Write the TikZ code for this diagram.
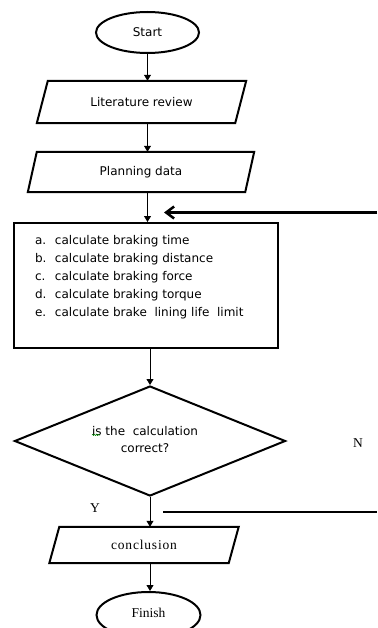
\documentclass[tikz,border=0pt]{standalone}
\usepackage{fontspec}
\setmainfont{Liberation Serif}
\newfontfamily\boxfont{DejaVu Sans}
\newfontfamily\spacedserif[LetterSpace=6]{Liberation Serif}
\usetikzlibrary{shapes.geometric,arrows.meta,decorations.pathmorphing}

% outline of a parallelogram drawn round a (hidden) rectangular node
\newcommand\slantframe[2]{%
  \draw[outline] ([xshift=#2]#1.north west) -- ([xshift=#2]#1.north east)
    -- ([xshift=-#2]#1.south east) -- ([xshift=-#2]#1.south west) -- cycle;}

\begin{document}
\begin{tikzpicture}[x=1pt,y=-1pt,
  outline/.style={draw=black,line width=2pt},
  sanstext/.style={font=\boxfont\fontsize{12}{14}\selectfont},
  seriftext/.style={font=\fontsize{13.5}{16}\selectfont},
  terminal/.style={ellipse,outline,inner sep=0pt},
  slantbody/.style={rectangle,inner sep=0pt},
  flow/.style={line width=0.8pt,-{Triangle[length=6pt,width=7pt]}},
  loopline/.style={line width=2.5pt},
]
\useasboundingbox (0,0) rectangle (377,628);
\fill[white] (0,0) rectangle (377,628);

% boxes
\node[terminal,sanstext,minimum width=103pt,minimum height=41pt] (start) at (147.5,32.5) {Start};
\node[slantbody,sanstext,minimum width=198pt,minimum height=42pt] (lit) at (141.5,102) {Literature review};
\slantframe{lit}{5.5pt}
\node[slantbody,sanstext,minimum width=217pt,minimum height=40pt] (plan) at (141,172) {Planning data};
\slantframe{plan}{4.5pt}
\node[outline,rectangle,inner sep=0pt,font=\boxfont\fontsize{12}{18}\selectfont] (calc) at (146,285.5)
  {\parbox[c][125pt][t]{264pt}{\vspace*{9pt}\hspace*{21pt}\begin{tabular}[t]{@{}p{20pt}@{}l@{}}
    a. & calculate braking time\\
    b. & calculate braking distance\\
    c. & calculate braking force\\
    d. & calculate braking torque\\
    e. & calculate brake\ \ lining life\ \ limit
  \end{tabular}}};
\node[diamond,outline,inner sep=0pt,aspect=2.46,minimum width=271pt,minimum height=110pt,
  font=\boxfont\fontsize{12}{17}\selectfont] (dec) at (150,441)
  {\raisebox{2.5pt}{\makebox[0pt]{\hspace*{-10pt}\begin{tabular}{@{}c@{}}is the\ \ calculation\\correct?\end{tabular}}}};
\node[slantbody,font=\spacedserif\fontsize{13.5}{16}\selectfont,minimum width=179pt,minimum height=36pt] (conc) at (144,545) {conclusion};
\slantframe{conc}{5pt}
\node[terminal,seriftext,minimum width=104pt,minimum height=46pt] (fin) at (148.5,615) {\raisebox{4pt}{Finish}};

% branch labels
\node[seriftext] (nlabel) at (358,443) {N};
\node[seriftext] (ylabel) at (95,508) {Y};

% spell-check mark under "is"
\draw[green!55!black,line width=0.5pt,decorate,decoration={snake,amplitude=0.6pt,segment length=2pt}]
  ([xshift=-58pt,yshift=6pt]dec.center) -- ++(8,0);

% main flow
\draw[flow] (start.south) -- (start.south |- lit.north);
\draw[flow] (lit.south -| start.south) -- (plan.north -| start.south);
\draw[flow] (plan.south -| start.south) -- (calc.north -| start.south);
\draw[flow] (calc.south -| dec.north) -- (dec.north);
\draw[flow] (dec.south) -- (conc.north -| dec.south);
\draw[flow] (conc.south -| dec.south) -- (fin.north -| dec.south);

% return lines
\coordinate (loopin) at (377,212.5);
\coordinate (loopend) at (164,212.5);
\draw[loopline,-{Straight Barb[length=8pt,width=12pt]}] (loopin) -- (loopend);
\coordinate (nostart) at (163,512);
\coordinate (noend) at (377,512);
\draw[loopline] (nostart) -- (noend);
\end{tikzpicture}
\end{document}
